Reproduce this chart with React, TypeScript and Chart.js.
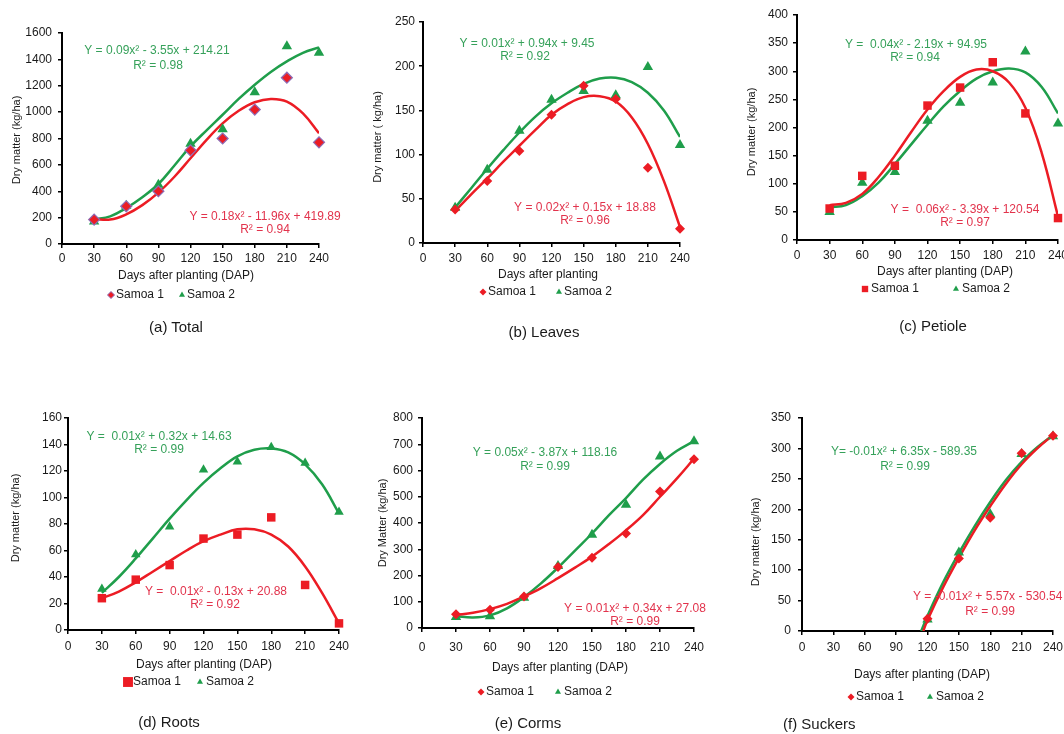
import React, { useEffect, useRef } from "react";
import { Chart, registerables } from "chart.js";
import { drawPoint } from "chart.js/helpers";

Chart.register(...registerables);

const FONT = '"Liberation Sans", Arial, Helvetica, sans-serif';
const RED = "#ec1c24";
const GREEN = "#1f9e4b";
const RED_TEXT = "#e2334c";
const GREEN_TEXT = "#36a15a";
const PURPLE = "#8d6cb6";
const INK = "#1a1a1a";

// ---------- shared x values / ticks ----------
const DAP = [30, 60, 90, 120, 150, 180, 210, 240];
const X_TICKS = [0, 30, 60, 90, 120, 150, 180, 210, 240];
const TREND_DAP = [30, 45, 60, 75, 90, 105, 120, 135, 150, 165, 180, 195, 210, 225, 240];

// ---------- (a) Total ----------
const totalYTicks = [0, 200, 400, 600, 800, 1000, 1200, 1400, 1600];
const totalSamoa1 = [185, 286, 400, 710, 800, 1019, 1261, 771];
const totalSamoa2 = [170, 290, 450, 761, 870, 1150, 1500, 1450];
const totalTrend1 = [190, 185, 225, 295, 390, 510, 650, 790, 915, 1010, 1075, 1100, 1080, 990, 840];
const totalTrend2 = [185, 210, 273, 355, 455, 595, 740, 862, 980, 1100, 1208, 1305, 1385, 1450, 1491];

// ---------- (b) Leaves ----------
const leavesYTicks = [0, 50, 100, 150, 200, 250];
const leavesSamoa1 = [38, 70, 104, 145, 178, 163, 85, 16];
const leavesSamoa2 = [40, 83, 127, 162, 172, 167, 199, 111];
const leavesTrend1 = [36, 55, 73, 92, 110, 128, 145, 157, 165, 166, 160, 142, 112, 70, 18];
const leavesTrend2 = [40, 62, 84, 105, 125, 143, 158, 170, 180, 186, 187, 182, 170, 150, 120];

// ---------- (c) Petiole ----------
const petioleYTicks = [0, 50, 100, 150, 200, 250, 300, 350, 400];
const petioleSamoa1 = [56, 114, 132, 239, 271, 316, 225, 39];
const petioleSamoa2 = [50, 102, 121, 212, 244, 280, 335, 207];
const petioleTrend1 = [62, 66, 82, 112, 150, 192, 232, 265, 290, 303, 300, 280, 235, 155, 42];
const petioleTrend2 = [58, 62, 78, 102, 135, 170, 205, 238, 265, 287, 300, 305, 298, 272, 225];

// ---------- (d) Roots ----------
const rootsYTicks = [0, 20, 40, 60, 80, 100, 120, 140, 160];
const rootsSamoa1 = [24, 38, 49, 69, 72, 85, 34, 5];
const rootsSamoa2 = [31, 57, 78, 121, 127, 138, 126, 89];
const rootsTrend1 = [24, 29, 36, 44, 52, 60, 67, 72, 76, 76, 72, 63, 48, 28, 5];
const rootsTrend2 = [28, 40, 54, 69, 84, 98, 111, 122, 131, 136, 137, 134, 125, 110, 88];

// ---------- (e) Corms ----------
const cormsYTicks = [0, 100, 200, 300, 400, 500, 600, 700, 800];
const cormsSamoa1 = [52, 70, 120, 232, 268, 360, 520, 643];
const cormsSamoa2 = [42, 45, 115, 236, 355, 470, 653, 711];
const cormsTrend1 = [50, 58, 72, 92, 120, 152, 190, 230, 272, 320, 372, 430, 500, 570, 645];
const cormsTrend2 = [45, 40, 48, 75, 118, 170, 230, 295, 360, 430, 495, 565, 625, 675, 712];

// ---------- (f) Suckers ----------
const suckersYTicks = [0, 50, 100, 150, 200, 250, 300, 350];
const suckersDAP = [120, 150, 180, 210, 240];
const suckersSamoa1 = [20, 119, 186, 292, 321];
const suckersSamoa2 = [19, 129, 192, 291, 320];
const suckersTrend1X = [116, 120, 135, 150, 165, 180, 195, 210, 225, 240];
const suckersTrend1 = [0, 18, 72, 120, 165, 205, 242, 274, 300, 322];
const suckersTrend2X = [114, 120, 135, 150, 165, 180, 195, 210, 225, 240];
const suckersTrend2 = [0, 25, 80, 128, 172, 212, 248, 278, 302, 322];

type Eq = {
  color: string;
  l1: string;
  l2: string;
  x1: number;
  y1: number;
  x2: number;
  y2: number;
  align1?: CanvasTextAlign;
};

type Panel = {
  id: string;
  box: [number, number, number, number];
  area: [number, number, number, number];
  yTicks: number[];
  yPad: number;
  xPad: number;
  sx: number[];
  s1: number[];
  s2: number[];
  t1x: number[];
  t1: number[];
  t2x: number[];
  t2: number[];
  s1Style: "rectRot" | "rect";
  s1Border?: string;
  r1: number;
  r2: number;
  eqs: Eq[];
  xTitle: string;
  xTitleAt: [number, number];
  yTitle: string;
  yTitleAt: [number, number];
  legend: { y: number; m1: number; t1: number; m2: number; t2: number; r1: number; r2: number };
  caption: string;
  captionAt: [number, number];
  captionAlign?: "left" | "center";
};

const zip = (xs: number[], ys: number[]) => ys.map((y, i) => ({ x: xs[i], y }));

const X_AXIS_H = 34;

const PANELS: Panel[] = [
  {
    id: "a",
    box: [0, 0, 360, 364],
    area: [62, 319, 33, 244],
    yTicks: totalYTicks,
    yPad: 6,
    xPad: 3,
    sx: DAP,
    s1: totalSamoa1,
    s2: totalSamoa2,
    t1x: TREND_DAP,
    t1: totalTrend1,
    t2x: TREND_DAP,
    t2: totalTrend2,
    s1Style: "rectRot",
    s1Border: PURPLE,
    r1: 5.5,
    r2: 6,
    eqs: [
      { color: GREEN_TEXT, l1: "Y = 0.09x² - 3.55x + 214.21", l2: "R² = 0.98", x1: 157, y1: 51, x2: 158, y2: 66 },
      { color: RED_TEXT, l1: "Y = 0.18x² - 11.96x + 419.89", l2: "R² = 0.94", x1: 265, y1: 217, x2: 265, y2: 230 },
    ],
    xTitle: "Days after planting (DAP)",
    xTitleAt: [186, 276],
    yTitle: "Dry matter (kg/ha)",
    yTitleAt: [17, 140],
    legend: { y: 295, m1: 111, t1: 116, m2: 182, t2: 187, r1: 3.5, r2: 3.5 },
    caption: "(a) Total",
    captionAt: [176, 326],
  },
  {
    id: "b",
    box: [360, 0, 360, 364],
    area: [423, 680, 22, 243],
    yTicks: leavesYTicks,
    yPad: 4,
    xPad: 4,
    sx: DAP,
    s1: leavesSamoa1,
    s2: leavesSamoa2,
    t1x: TREND_DAP,
    t1: leavesTrend1,
    t2x: TREND_DAP,
    t2: leavesTrend2,
    s1Style: "rectRot",
    r1: 5,
    r2: 6,
    eqs: [
      { color: GREEN_TEXT, l1: "Y = 0.01x² + 0.94x + 9.45", l2: "R² = 0.92", x1: 527, y1: 44, x2: 525, y2: 57 },
      { color: RED_TEXT, l1: "Y = 0.02x² + 0.15x + 18.88", l2: "R² = 0.96", x1: 585, y1: 208, x2: 585, y2: 221 },
    ],
    xTitle: "Days after planting",
    xTitleAt: [548, 275],
    yTitle: "Dry matter ( kg/ha)",
    yTitleAt: [378, 137],
    legend: { y: 292, m1: 483, t1: 488, m2: 559, t2: 564, r1: 3.5, r2: 3.5 },
    caption: "(b) Leaves",
    captionAt: [544, 331],
  },
  {
    id: "c",
    box: [720, 0, 360, 364],
    area: [797, 1058, 15, 240],
    yTicks: petioleYTicks,
    yPad: 5,
    xPad: 4,
    sx: DAP,
    s1: petioleSamoa1,
    s2: petioleSamoa2,
    t1x: TREND_DAP,
    t1: petioleTrend1,
    t2x: TREND_DAP,
    t2: petioleTrend2,
    s1Style: "rect",
    r1: 6,
    r2: 6,
    eqs: [
      { color: GREEN_TEXT, l1: "Y =  0.04x² - 2.19x + 94.95", l2: "R² = 0.94", x1: 916, y1: 45, x2: 915, y2: 58 },
      { color: RED_TEXT, l1: "Y =  0.06x² - 3.39x + 120.54", l2: "R² = 0.97", x1: 965, y1: 210, x2: 965, y2: 223 },
    ],
    xTitle: "Days after planting (DAP)",
    xTitleAt: [945, 272],
    yTitle: "Dry matter (kg/ha)",
    yTitleAt: [752, 132],
    legend: { y: 289, m1: 865, t1: 871, m2: 956, t2: 962, r1: 4.5, r2: 3.5 },
    caption: "(c) Petiole",
    captionAt: [933, 325],
  },
  {
    id: "d",
    box: [0, 364, 360, 370],
    area: [68, 339, 418, 630],
    yTicks: rootsYTicks,
    yPad: 2,
    xPad: 5,
    sx: DAP,
    s1: rootsSamoa1,
    s2: rootsSamoa2,
    t1x: TREND_DAP,
    t1: rootsTrend1,
    t2x: TREND_DAP,
    t2: rootsTrend2,
    s1Style: "rect",
    r1: 6,
    r2: 5.5,
    eqs: [
      { color: GREEN_TEXT, l1: "Y =  0.01x² + 0.32x + 14.63", l2: "R² = 0.99", x1: 159, y1: 437, x2: 159, y2: 450 },
      { color: RED_TEXT, l1: "Y =  0.01x² - 0.13x + 20.88", l2: "R² = 0.92", x1: 216, y1: 592, x2: 215, y2: 605 },
    ],
    xTitle: "Days after planting (DAP)",
    xTitleAt: [204, 665],
    yTitle: "Dry matter (kg/ha)",
    yTitleAt: [16, 518],
    legend: { y: 682, m1: 128, t1: 133, m2: 200, t2: 206, r1: 7, r2: 3.5 },
    caption: "(d) Roots",
    captionAt: [169, 721],
  },
  {
    id: "e",
    box: [360, 364, 360, 370],
    area: [422, 694, 418, 628],
    yTicks: cormsYTicks,
    yPad: 5,
    xPad: 8,
    sx: DAP,
    s1: cormsSamoa1,
    s2: cormsSamoa2,
    t1x: TREND_DAP,
    t1: cormsTrend1,
    t2x: TREND_DAP,
    t2: cormsTrend2,
    s1Style: "rectRot",
    r1: 5,
    r2: 6,
    eqs: [
      { color: GREEN_TEXT, l1: "Y = 0.05x² - 3.87x + 118.16", l2: "R² = 0.99", x1: 545, y1: 453, x2: 545, y2: 467 },
      { color: RED_TEXT, l1: "Y = 0.01x² + 0.34x + 27.08", l2: "R² = 0.99", x1: 635, y1: 609, x2: 635, y2: 622 },
    ],
    xTitle: "Days after planting (DAP)",
    xTitleAt: [560, 668],
    yTitle: "Dry Matter (kg/ha)",
    yTitleAt: [383, 523],
    legend: { y: 692, m1: 481, t1: 486, m2: 558, t2: 564, r1: 3.5, r2: 3.5 },
    caption: "(e) Corms",
    captionAt: [528, 722],
  },
  {
    id: "f",
    box: [720, 364, 360, 370],
    area: [802, 1053, 418, 631],
    yTicks: suckersYTicks,
    yPad: 7,
    xPad: 5,
    sx: suckersDAP,
    s1: suckersSamoa1,
    s2: suckersSamoa2,
    t1x: suckersTrend1X,
    t1: suckersTrend1,
    t2x: suckersTrend2X,
    t2: suckersTrend2,
    s1Style: "rectRot",
    r1: 5,
    r2: 6,
    eqs: [
      { color: GREEN_TEXT, l1: "Y= -0.01x² + 6.35x - 589.35", l2: "R² = 0.99", x1: 904, y1: 452, x2: 905, y2: 467 },
      { color: RED_TEXT, l1: "Y = -0.01x² + 5.57x - 530.54", l2: "R² = 0.99", x1: 913, y1: 597, x2: 990, y2: 612, align1: "left" },
    ],
    xTitle: "Days after planting (DAP)",
    xTitleAt: [922, 675],
    yTitle: "Dry matter (kg/ha)",
    yTitleAt: [756, 542],
    legend: { y: 697, m1: 851, t1: 856, m2: 930, t2: 936, r1: 3.5, r2: 3.5 },
    caption: "(f) Suckers",
    captionAt: [783, 723],
    captionAlign: "left",
  },
];

function PanelChart({ p }: { p: Panel }) {
  const ref = useRef<HTMLCanvasElement>(null);
  useEffect(() => {
    const [bx, by, bw, bh] = p.box;
    const [L, R, T, B] = p.area;
    const annotate = {
      id: "annotate",
      afterDraw(chart: any) {
        const ctx: CanvasRenderingContext2D = chart.ctx;
        ctx.save();
        ctx.textBaseline = "middle";
        ctx.font = `12px ${FONT}`;
        for (const e of p.eqs) {
          ctx.fillStyle = e.color;
          ctx.textAlign = e.align1 || "center";
          ctx.fillText(e.l1, e.x1 - bx, e.y1 - by);
          ctx.textAlign = "center";
          ctx.fillText(e.l2, e.x2 - bx, e.y2 - by);
        }
        ctx.fillStyle = INK;
        ctx.textAlign = "center";
        ctx.fillText(p.xTitle, p.xTitleAt[0] - bx, p.xTitleAt[1] - by);
        ctx.save();
        ctx.translate(p.yTitleAt[0] - bx, p.yTitleAt[1] - by);
        ctx.rotate(-Math.PI / 2);
        ctx.font = `11px ${FONT}`;
        ctx.fillText(p.yTitle, 0, 0);
        ctx.restore();
        // legend
        const ly = p.legend.y - by;
        ctx.fillStyle = RED;
        ctx.strokeStyle = p.s1Border || RED;
        ctx.lineWidth = 1;
        drawPoint(ctx, { pointStyle: p.s1Style, radius: p.legend.r1, borderWidth: p.s1Border ? 1 : 0, rotation: 0 } as any, p.legend.m1 - bx, ly);
        ctx.fillStyle = GREEN;
        ctx.strokeStyle = GREEN;
        drawPoint(ctx, { pointStyle: "triangle", radius: p.legend.r2, borderWidth: 0, rotation: 0 } as any, p.legend.m2 - bx, ly);
        ctx.fillStyle = INK;
        ctx.textAlign = "left";
        ctx.font = `12px ${FONT}`;
        ctx.fillText("Samoa 1", p.legend.t1 - bx, ly);
        ctx.fillText("Samoa 2", p.legend.t2 - bx, ly);
        ctx.restore();
      },
    };
    const tickFont = { family: FONT, size: 12 };
    const chart = new Chart(ref.current as HTMLCanvasElement, {
      type: "scatter",
      data: {
        datasets: [
          {
            label: "Samoa 1",
            data: zip(p.sx, p.s1),
            pointStyle: p.s1Style,
            pointRadius: p.r1,
            pointBackgroundColor: RED,
            pointBorderColor: p.s1Border || RED,
            pointBorderWidth: p.s1Border ? 1.2 : 0,
            clip: false,
            order: 0,
          } as any,
          {
            label: "Samoa 2",
            data: zip(p.sx, p.s2),
            pointStyle: "triangle",
            pointRadius: p.r2,
            pointBackgroundColor: GREEN,
            pointBorderColor: GREEN,
            pointBorderWidth: 0,
            clip: false,
            order: 0,
          } as any,
          {
            label: "Samoa 1 trend",
            data: zip(p.t1x, p.t1),
            showLine: true,
            pointRadius: 0,
            borderColor: RED,
            borderWidth: 2.5,
            tension: 0.4,
            order: 1,
          } as any,
          {
            label: "Samoa 2 trend",
            data: zip(p.t2x, p.t2),
            showLine: true,
            pointRadius: 0,
            borderColor: GREEN,
            borderWidth: 2.5,
            tension: 0.4,
            order: 1,
          } as any,
        ],
      },
      options: {
        responsive: false,
        maintainAspectRatio: false,
        animation: false,
        events: [],
        layout: {
          padding: { left: 0, top: T - by, right: bx + bw - R, bottom: by + bh - B - X_AXIS_H },
        },
        plugins: { legend: { display: false }, tooltip: { enabled: false } },
        scales: {
          x: {
            type: "linear",
            min: 0,
            max: 240,
            afterBuildTicks: (s: any) => {
              s.ticks = X_TICKS.map((v) => ({ value: v }));
            },
            afterFit: (s: any) => {
              s.height = X_AXIS_H;
            },
            ticks: {
              font: tickFont,
              color: INK,
              padding: p.xPad,
              maxRotation: 0,
              autoSkip: false,
              callback: (v: any) => String(v),
            },
            grid: { drawOnChartArea: false, drawTicks: true, tickLength: 4, color: "#000", lineWidth: 1.5 },
            border: { display: true, color: "#000", width: 2 },
          },
          y: {
            type: "linear",
            min: 0,
            max: p.yTicks[p.yTicks.length - 1],
            afterBuildTicks: (s: any) => {
              s.ticks = p.yTicks.map((v) => ({ value: v }));
            },
            afterFit: (s: any) => {
              s.width = L - bx;
            },
            ticks: {
              font: tickFont,
              color: INK,
              padding: p.yPad,
              autoSkip: false,
              callback: (v: any) => String(v),
            },
            grid: { drawOnChartArea: false, drawTicks: true, tickLength: 4, color: "#000", lineWidth: 1.5 },
            border: { display: true, color: "#000", width: 2 },
          },
        },
      } as any,
      plugins: [annotate],
    });
    return () => chart.destroy();
  }, [p]);
  const [bx, by, bw, bh] = p.box;
  return (
    <canvas
      ref={ref}
      width={bw}
      height={bh}
      style={{ position: "absolute", left: bx, top: by, width: bw, height: bh }}
    />
  );
}

export default function App() {
  return (
    <div
      style={{
        position: "fixed",
        left: 0,
        top: 0,
        width: 1064,
        height: 734,
        overflow: "hidden",
        background: "#fff",
        fontFamily: FONT,
      }}
    >
      {PANELS.map((p) => (
        <PanelChart key={p.id} p={p} />
      ))}
      {PANELS.map((p) => (
        <div
          key={"cap" + p.id}
          style={{
            position: "absolute",
            left: p.captionAt[0],
            top: p.captionAt[1],
            transform: p.captionAlign === "left" ? "translate(0,-50%)" : "translate(-50%,-50%)",
            fontSize: 15,
            color: INK,
            whiteSpace: "nowrap",
            lineHeight: 1,
          }}
        >
          {p.caption}
        </div>
      ))}
    </div>
  );
}
